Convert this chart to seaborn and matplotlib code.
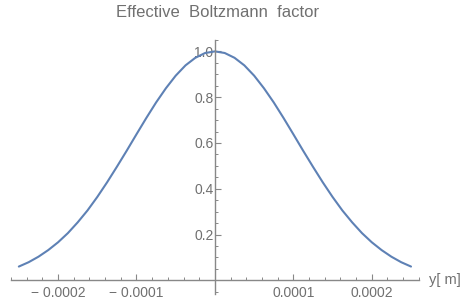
import matplotlib
matplotlib.use("Agg")
import matplotlib.pyplot as plt
import numpy as np
import pandas as pd
import seaborn as sns
from matplotlib.ticker import FixedLocator, MultipleLocator

# values (y in metres, factor dimensionless)
y_pos = [-2.5e-4, -2.375e-4, -2.25e-4, -2.125e-4, -2.0e-4, -1.875e-4, -1.75e-4,
         -1.625e-4, -1.5e-4, -1.375e-4, -1.25e-4, -1.125e-4, -1.0e-4, -0.875e-4,
         -0.75e-4, -0.625e-4, -0.5e-4, -0.375e-4, -0.25e-4, -0.125e-4, 0.0,
         0.125e-4, 0.25e-4, 0.375e-4, 0.5e-4, 0.625e-4, 0.75e-4, 0.875e-4,
         1.0e-4, 1.125e-4, 1.25e-4, 1.375e-4, 1.5e-4, 1.625e-4, 1.75e-4,
         1.875e-4, 2.0e-4, 2.125e-4, 2.25e-4, 2.375e-4, 2.5e-4]
factor = [0.060, 0.079, 0.103, 0.132, 0.166, 0.206, 0.253, 0.305, 0.364, 0.428,
          0.496, 0.566, 0.638, 0.709, 0.777, 0.839, 0.894, 0.939, 0.972, 0.993,
          1.000,
          0.993, 0.972, 0.939, 0.894, 0.839, 0.777, 0.709, 0.638, 0.566, 0.496,
          0.428, 0.364, 0.305, 0.253, 0.206, 0.166, 0.132, 0.103, 0.079, 0.060]

x_ticks = [-2e-4, -1e-4, 1e-4, 2e-4]
x_tick_labels = ["\u2212 0.0002", "\u2212 0.0001", "0.0001", "0.0002"]
y_ticks = [0.2, 0.4, 0.6, 0.8, 1.0]
y_tick_labels = ["0.2", "0.4", "0.6", "0.8", "1.0"]

sns.set_style("white")
plt.rcParams["font.family"] = ["Liberation Sans", "DejaVu Sans"]

axis_col = "#888888"
text_col = "#707070"

fig = plt.figure(figsize=(4.64, 3.05), dpi=100)
ax = fig.add_axes([0.0237, 0.036, 0.879, 0.833])

df = pd.DataFrame({"y": y_pos, "f": factor})
sns.lineplot(data=df, x="y", y="f", ax=ax, color="#5E81B5", linewidth=1.5)

ax.set_xlim(-2.6e-4, 2.6e-4)
ax.set_ylim(-0.06, 1.05)

for s in ("top", "right"):
    ax.spines[s].set_visible(False)
ax.spines["left"].set_position(("data", 0))
ax.spines["bottom"].set_position(("data", 0))
for s in ("left", "bottom"):
    ax.spines[s].set_color(axis_col)
    ax.spines[s].set_linewidth(1.0)

ax.xaxis.set_major_locator(FixedLocator(x_ticks))
ax.set_xticklabels(x_tick_labels)
ax.xaxis.set_minor_locator(MultipleLocator(2e-5))
ax.yaxis.set_major_locator(FixedLocator(y_ticks))
ax.set_yticklabels(y_tick_labels)
ax.yaxis.set_minor_locator(MultipleLocator(0.05))

ax.tick_params(axis="both", which="both", bottom=True, left=True,
               top=False, right=False)
ax.tick_params(axis="both", which="major", direction="in", length=4.5, width=0.8,
               color=axis_col, labelcolor=text_col, labelsize=10)
ax.tick_params(axis="both", which="minor", direction="in", length=2.5, width=0.7,
               color=axis_col)
ax.tick_params(axis="x", which="major", pad=4)
ax.tick_params(axis="y", which="major", pad=1)

ax.set_xlabel("")
ax.set_ylabel("")
ax.text(2.73e-4, 0.0, "y[ m]", color=text_col, fontsize=10.5,
        ha="left", va="center", transform=ax.transData)
fig.text(0.468, 0.96, "Effective  Boltzmann  factor", color=text_col,
         fontsize=12, ha="center", va="center")

fig.savefig("out.png", dpi=100)
